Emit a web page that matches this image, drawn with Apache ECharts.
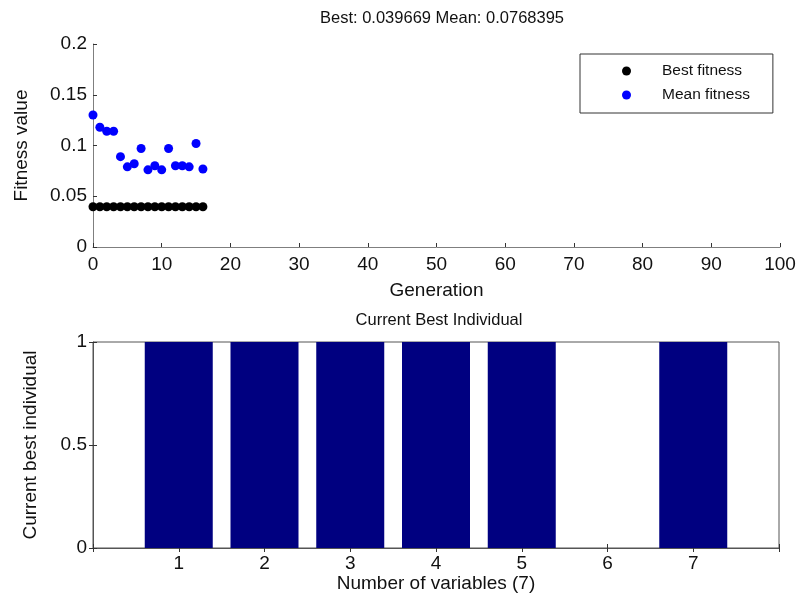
<!DOCTYPE html>
<html>
<head>
<meta charset="utf-8">
<script src="https://cdn.jsdelivr.net/npm/echarts@6/dist/echarts.min.js"></script>
<style>
  html, body { margin: 0; padding: 0; background: #fff; }
  #main { width: 800px; height: 603px; }
</style>
</head>
<body>
<div id="main"></div>
<script>
// GA run, fitness per generation
var generations = [0, 1, 2, 3, 4, 5, 6, 7, 8, 9, 10, 11, 12, 13, 14, 15, 16];
var bestFitness = [0.039669, 0.039669, 0.039669, 0.039669, 0.039669, 0.039669, 0.039669, 0.039669, 0.039669,
  0.039669, 0.039669, 0.039669, 0.039669, 0.039669, 0.039669, 0.039669, 0.039669];
var meanFitness = [0.130, 0.118, 0.114, 0.114, 0.089, 0.079, 0.082, 0.097, 0.076,
  0.080, 0.076, 0.097, 0.080, 0.080, 0.079, 0.102, 0.0768395];

// current best individual (bits)
var variables = [1, 2, 3, 4, 5, 6, 7];
var bestIndividual = [1, 1, 1, 1, 1, 0, 1];

var font = 'Liberation Sans, Arial, Helvetica, sans-serif';
var axisCol = '#7f7f7f';
var fs = 19;

function pairs(xs, ys) {
  return xs.map(function (x, i) { return [x, ys[i]]; });
}

var chart = echarts.init(document.getElementById('main'));

var option = {
  backgroundColor: '#fff',
  animation: false,
  textStyle: { fontFamily: font, color: '#000' },
  title: [{
    text: 'Best: 0.039669 Mean: 0.0768395',
    left: 437, top: 5, textAlign: 'center',
    textStyle: { fontSize: 16.5, fontWeight: 'normal', color: '#111', fontFamily: font }
  }, {
    text: 'Current Best Individual',
    left: 434, top: 307, textAlign: 'center',
    textStyle: { fontSize: 16.5, fontWeight: 'normal', color: '#111', fontFamily: font }
  }],
  legend: {
    data: ['Best fitness', 'Mean fitness'],
    orient: 'vertical',
    left: 580, top: 54,
    padding: [8, 23, 9, 42],
    itemGap: 6,
    itemWidth: 9, itemHeight: 9,
    borderColor: '#333', borderWidth: 1, borderRadius: 0,
    backgroundColor: '#fff',
    textStyle: { fontSize: 15.5, fontFamily: font, color: '#111', padding: [0, 0, 0, 26], lineHeight: 18 }
  },
  grid: [
    { left: 93, right: 20, top: 44, height: 203, show: false },
    { left: 93, right: 21, top: 342, height: 206, show: true, borderColor: '#555', borderWidth: 1 }
  ],
  xAxis: [{
    gridIndex: 0, type: 'value', min: 0, max: 100, interval: 10,
    name: 'Generation', nameLocation: 'middle', nameGap: 34,
    nameTextStyle: { fontSize: fs, color: '#111', fontFamily: font },
    axisLine: { lineStyle: { color: axisCol } },
    axisTick: { inside: true, length: 4, lineStyle: { color: '#333' } },
    axisLabel: { fontSize: fs, color: '#111', margin: 8, fontFamily: font },
    splitLine: { show: false }
  }, {
    gridIndex: 1, type: 'value', min: 0, max: 8, interval: 1,
    name: 'Number of variables (7)', nameLocation: 'middle', nameGap: 25,
    nameTextStyle: { fontSize: fs, color: '#111', fontFamily: font },
    axisLine: { lineStyle: { color: '#555' } },
    axisTick: { inside: true, length: 4, lineStyle: { color: '#333' } },
    axisLabel: {
      fontSize: fs, color: '#111', margin: 6, fontFamily: font,
      formatter: function (v) { return (v >= 1 && v <= 7) ? String(v) : ''; }
    },
    splitLine: { show: false }
  }, {
    gridIndex: 1, type: 'value', position: 'top', min: 0, max: 8, interval: 1,
    axisLine: { show: false },
    axisTick: { inside: true, length: 4, lineStyle: { color: '#333' } },
    axisLabel: { show: false },
    splitLine: { show: false }
  }],
  yAxis: [{
    gridIndex: 0, type: 'value', min: 0, max: 0.2, interval: 0.05,
    name: 'Fitness value', nameLocation: 'middle', nameGap: 62,
    nameTextStyle: { fontSize: fs, color: '#111', fontFamily: font },
    axisLine: { show: true, lineStyle: { color: axisCol } },
    axisTick: { show: true, inside: true, length: 4, lineStyle: { color: '#333' } },
    axisLabel: { fontSize: fs, color: '#111', margin: 6, fontFamily: font },
    splitLine: { show: false }
  }, {
    gridIndex: 1, type: 'value', min: 0, max: 1, interval: 0.5,
    name: 'Current best individual', nameLocation: 'middle', nameGap: 53,
    nameTextStyle: { fontSize: fs, color: '#111', fontFamily: font },
    axisLine: { show: true, lineStyle: { color: '#555' } },
    axisTick: { show: true, inside: true, length: 4, lineStyle: { color: '#333' } },
    axisLabel: { fontSize: fs, color: '#111', margin: 6, fontFamily: font },
    splitLine: { show: false }
  }, {
    gridIndex: 1, type: 'value', position: 'right', min: 0, max: 1, interval: 0.5,
    axisLine: { show: false },
    axisTick: { show: true, inside: true, length: 4, lineStyle: { color: '#333' } },
    axisLabel: { show: false },
    splitLine: { show: false }
  }],
  series: [{
    name: 'Best fitness', type: 'scatter',
    xAxisIndex: 0, yAxisIndex: 0,
    symbol: 'circle', symbolSize: 9,
    itemStyle: { color: '#000', opacity: 1 },
    data: pairs(generations, bestFitness)
  }, {
    name: 'Mean fitness', type: 'scatter',
    xAxisIndex: 0, yAxisIndex: 0,
    symbol: 'circle', symbolSize: 9,
    itemStyle: { color: '#0000ff', opacity: 1 },
    data: pairs(generations, meanFitness)
  }, {
    name: 'Current best', type: 'bar',
    xAxisIndex: 1, yAxisIndex: 1,
    barWidth: 68,
    itemStyle: { color: '#000080', borderWidth: 0 },
    data: pairs(variables, bestIndividual)
  }]
};

chart.setOption(option);
</script>
</body>
</html>
